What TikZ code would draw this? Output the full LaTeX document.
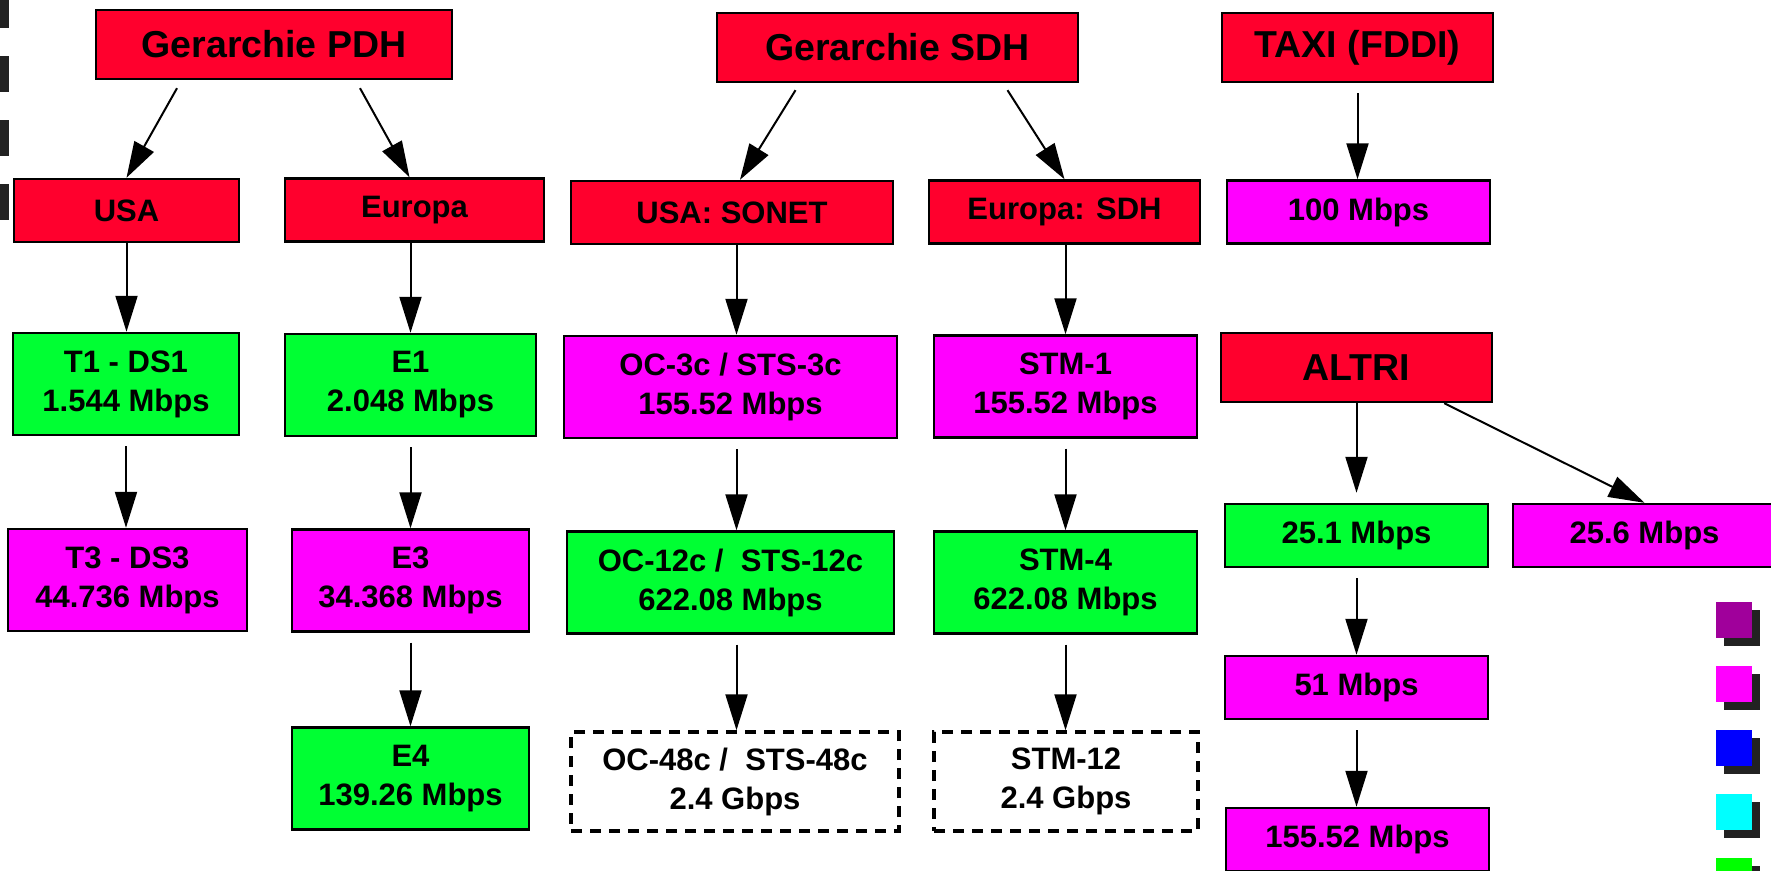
\documentclass[tikz,border=0pt]{standalone}
\usepackage{fontspec}
\setmainfont{Liberation Sans}
\usetikzlibrary{arrows.meta}
\definecolor{netred}{RGB}{255,0,45}
\definecolor{netgreen}{RGB}{0,255,51}
\definecolor{netmagenta}{RGB}{255,0,255}
\definecolor{legPurple}{RGB}{160,0,155}
\definecolor{legMagenta}{RGB}{255,0,255}
\definecolor{legBlue}{RGB}{0,0,255}
\definecolor{legCyan}{RGB}{0,255,255}
\definecolor{legGreen}{RGB}{0,255,0}
\definecolor{shadowgray}{RGB}{34,34,34}
\tikzset{%
  >={Triangle[width=11pt,length=18pt]},
  % Specifications for style of nodes:
          base/.style = {rectangle, draw=black, line width=1.2pt,
                         inner sep=0pt, align=center,
                         font=\fontsize{15.5}{19.5}\selectfont\bfseries},
        header/.style = {base, fill=netred, minimum height=34.5pt,
                         font=\fontsize{18.75}{22}\selectfont\bfseries},
        branch/.style = {base, fill=netred, minimum height=31.5pt},
     rateGreen/.style = {base, fill=netgreen, minimum height=51pt},
   rateMagenta/.style = {base, fill=netmagenta, minimum height=51pt},
    rateFuture/.style = {base, fill=white, line width=1.7pt,
                         dash pattern=on 5.5pt off 4pt, minimum height=49.5pt},
      oneLine/.style  = {minimum height=31.5pt},
        spaced/.style = {shorten <=5pt},
}

\begin{document}
\begin{tikzpicture}[x=0.5pt, y=-0.5pt, line width=1pt]
  \useasboundingbox (0,0) rectangle (1771,871);

  % Legend squares, cut off at both edges
  \foreach \yy in {-8,56,120,184}
    \fill[shadowgray] (-27,\yy) rectangle ++(36,36);
  \foreach \col [count=\i from 0] in {legPurple,legMagenta,legBlue,legCyan,legGreen}{
    \fill[shadowgray] (1724,610+64*\i) rectangle ++(36,36);
    \fill[\col] (1716,602+64*\i) rectangle ++(36,36);
  }

  % Specification of nodes (position, etc.)
  \node (pdh)    [header, minimum width=178pt]   at (274,44.5)   {Gerarchie PDH};
  \node (usa)    [branch, minimum width=112.5pt] at (126.5,210.5) {USA};
  \node (europa) [branch, minimum width=129.5pt] at (414.5,210)  {Europa};
  \node (tone)   [rateGreen, minimum width=113pt]   at (126,384)   {T1 - DS1\\1.544 Mbps};
  \node (eone)   [rateGreen, minimum width=125.5pt] at (410.5,385) {E1\\2.048 Mbps};
  \node (tthree) [rateMagenta, minimum width=119.5pt] at (127.5,580) {T3 - DS3\\44.736 Mbps};
  \node (ethree) [rateMagenta, minimum width=118.5pt] at (410.5,580.5) {E3\\34.368 Mbps};
  \node (efour)  [rateGreen, minimum width=118.5pt] at (410.5,778.5) {E4\\139.26 Mbps};

  \node (sdh)    [header, minimum width=180.5pt] at (897.5,47.5) {Gerarchie SDH};
  \node (sonet)  [branch, minimum width=161pt]   at (732,212.5)  {USA: SONET};
  \node (eusdh)  [branch, minimum width=135.5pt] at (1064.5,212) {Europa: SDH};
  \node (octhree)  [rateMagenta, minimum width=166.5pt] at (730.5,387)  {OC-3c / STS-3c\\155.52 Mbps};
  \node (stmone)   [rateMagenta, minimum width=131.5pt] at (1065.5,386.5) {STM-1\\155.52 Mbps};
  \node (octwelve) [rateGreen, minimum width=163.5pt]   at (730.5,582.5) {OC-12c /\ \ STS-12c\\622.08 Mbps};
  \node (stmfour)  [rateGreen, minimum width=131.5pt]   at (1065.5,582.5) {STM-4\\622.08 Mbps};
  \node (ocfourtyeight) [rateFuture, minimum width=164pt] at (735,781.5) {OC-48c /\ \ STS-48c\\2.4 Gbps};
  \node (stmtwelve)     [rateFuture, minimum width=132pt] at (1066,781.5) {STM-12\\2.4 Gbps};

  \node (taxi)   [header, minimum width=135.5pt] at (1357.5,47.5) {TAXI (FDDI)};
  \node (fddi)   [rateMagenta, oneLine, minimum width=131.5pt] at (1358.5,212) {100 Mbps};
  \node (altri)  [header, minimum width=135.5pt] at (1356.5,367.5) {ALTRI};
  \node (mbone)  [rateGreen, oneLine, minimum width=131.5pt]   at (1356.5,535.5) {25.1 Mbps};
  \node (mbsix)  [rateMagenta, oneLine, minimum width=131.5pt] at (1644.5,535.5) {25.6 Mbps};
  \node (mbfiftyone) [rateMagenta, oneLine, minimum width=131.5pt] at (1356.5,687.5) {51 Mbps};
  \node (mbatm)  [rateMagenta, oneLine, minimum width=131.5pt] at (1357.5,839.5) {155.52 Mbps};

  % Specification of lines between nodes specified above
  \draw[->] ([xshift=-48.5pt,yshift=-4pt]pdh.south) -- (usa.north);
  \draw[->] ([xshift=43pt,yshift=-4pt]pdh.south) -- ([xshift=-2.5pt]europa.north);
  \draw[->] (usa.south) -- (usa.south |- tone.north);
  \draw[->] (europa.south -| eone) -- (eone.north);
  \draw[->, spaced] (tone.south) -- (tone.south |- tthree.north);
  \draw[->, spaced] (eone.south) -- (ethree.north);
  \draw[->, spaced] (ethree.south) -- (efour.north);

  \draw[->] ([xshift=-51pt,yshift=-3.5pt]sdh.south) -- ([xshift=4pt]sonet.north);
  \draw[->] ([xshift=55pt,yshift=-3.5pt]sdh.south) -- (eusdh.north);
  \draw[->] ([xshift=3pt]octhree.north |- sonet.south) -- ([xshift=3pt]octhree.north);
  \draw[->] (eusdh.south -| stmone) -- (stmone.north);
  \draw[->, spaced] ([xshift=3pt]octhree.south) -- ([xshift=3pt]octwelve.north);
  \draw[->, spaced] (stmone.south) -- (stmfour.north);
  \draw[->, spaced] ([xshift=3pt]octwelve.south) -- ([xshift=3pt]octwelve.south |- ocfourtyeight.north);
  \draw[->, spaced] (stmfour.south) -- (stmfour.south |- stmtwelve.north);

  \draw[->, spaced] (taxi.south) -- (taxi.south |- fddi.north);
  \draw[->, shorten >=5pt] (altri.south) -- (altri.south |- mbone.north);
  \draw[->] ([xshift=-24.5pt]altri.south east) -- (mbsix.north);
  \draw[->, spaced] (mbone.south) -- (mbfiftyone.north);
  \draw[->, spaced] (mbfiftyone.south) -- (mbfiftyone.south |- mbatm.north);
\end{tikzpicture}
\end{document}
